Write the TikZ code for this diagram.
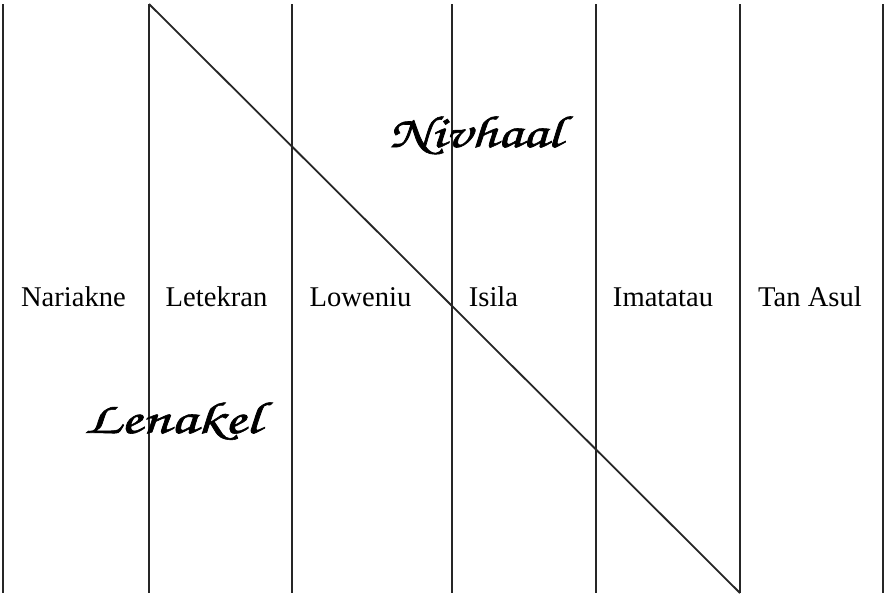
\documentclass[tikz,border=0pt]{standalone}
\usepackage{fontspec}
\usepackage{graphicx}
\setmainfont{Liberation Serif}
\newfontfamily\chorus{texgyrechorus-mediumitalic.otf}[FakeBold=1.3]
\newcommand{\scriptface}{\chorus\fontsize{45}{48}\selectfont}
\begin{document}
\begin{tikzpicture}[x=1pt,y=-1pt,
  divider/.style={draw=black!85,line width=1.8pt},
  lab/.style={font=\fontsize{28.6}{30}\selectfont,anchor=base,inner sep=0pt},
  scr/.style={font=\scriptface,anchor=base west,inner sep=0pt}]
\useasboundingbox (0,0) rectangle (885,598);
\foreach \n/\x in {1/3,2/149,3/292,4/452,5/596,6/740,7/883}{
  \coordinate (t\n) at (\x,4);
  \coordinate (b\n) at (\x,593);
  \draw[divider] (t\n) -- (b\n);
}
\draw[divider] (t2) -- (b6);
\node[lab] (nariakne) at (73.5,306.5) {Nariakne};
\node[lab] (letekran) at (216.5,306.5) {Letekran};
\node[lab] (loweniu) at (360.5,306.5) {Loweniu};
\node[lab] (isila) at (493.5,306.5) {Isila};
\node[lab] (imatatau) at (663,306.5) {Imatatau};
\node[lab] (tanasul) at (810,306.5) {Tan Asul};
\node[scr] (nivhaal) at (389,147) {\scalebox{1.32}[1]{Nivhaal}};
\node[scr] (lenakel) at (84,433) {\scalebox{1.39}[1]{Lenakel}};
\end{tikzpicture}
\end{document}
